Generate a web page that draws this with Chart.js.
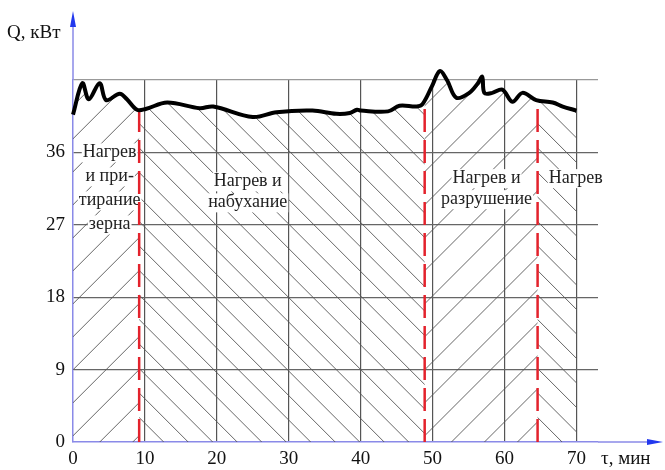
<!DOCTYPE html>
<html>
<head>
<meta charset="utf-8">
<script src="https://cdn.jsdelivr.net/npm/chart.js@4"></script>
<style>
  html, body { margin: 0; padding: 0; background: #fff; }
  canvas { display: block; }
</style>
</head>
<body>
<canvas id="chart" width="665" height="470"></canvas>
<script>
// time, min
const tau = [0, 1.3, 2.2, 3.7, 4.6, 6.5, 7.5, 8.9, 10.1, 13.1, 17.6, 19.5, 25, 28.3, 33.3, 36.6,
  38.5, 39.5, 40, 43.8, 45.4, 47.8, 48.6, 49.9, 51, 52, 53.3, 55.1, 56.3, 56.9, 57.2, 58.3,
  59.7, 61.1, 62.5, 64.4, 66.7, 68.1, 70];
// power Q, kW
const power = [40.7, 44.6, 42.6, 44.6, 42.5, 43.3, 42.6, 41.3, 41.4, 42.2, 41.5, 41.7, 40.4, 41.0,
  41.2, 40.8, 40.9, 41.3, 41.2, 41.1, 41.8, 41.7, 42.0, 44.2, 46.1, 45.0, 42.8, 43.4, 44.6, 45.4,
  43.4, 43.4, 43.8, 42.3, 43.4, 42.5, 42.2, 41.7, 41.2];

// stage boundaries (min) and stage captions
const stageBounds = [0, 9.2, 48.9, 64.6, 70];
const stageHatch = ['/', '\\', '/', '\\'];
const stageLabels = [
  ['Нагрев', 'и при-', 'тирание', 'зерна'],
  ['Нагрев и', 'набухание'],
  ['Нагрев и', 'разрушение'],
  ['Нагрев']
];
const yTicks = [0, 9, 18, 27, 36, 45];

const serif = "'Liberation Serif', 'Times New Roman', serif";
const axisBlue = '#8a8ae8';

// where to put captions (data coords: centre x, first line y)
const labelPos = [[5.1, 36.0], [24.3, 32.4], [57.5, 32.8], [69.9, 32.8]];

function curveAt(x) {
  for (let i = 1; i < tau.length; i++) {
    if (x <= tau[i]) {
      const t = (x - tau[i - 1]) / (tau[i] - tau[i - 1]);
      return power[i - 1] + t * (power[i] - power[i - 1]);
    }
  }
  return power[power.length - 1];
}

const stagesPlugin = {
  id: 'stages',
  beforeDatasetsDraw(chart) {
    const { ctx, scales: { x, y } } = chart;
    const meta = chart.getDatasetMeta(0);
    const yb = y.getPixelForValue(0);
    const top = y.getPixelForValue(50);

    // hatching under the curve
    ctx.save();
    ctx.beginPath();
    if (meta.dataset && meta.dataset.path) {
      meta.dataset.path(ctx, 0, meta.data.length);
    } else {
      meta.data.forEach((p, i) => i ? ctx.lineTo(p.x, p.y) : ctx.moveTo(p.x, p.y));
    }
    ctx.lineTo(x.getPixelForValue(70), yb);
    ctx.lineTo(x.getPixelForValue(0), yb);
    ctx.closePath();
    ctx.clip();
    ctx.strokeStyle = '#555';
    ctx.lineWidth = 0.9;
    for (let i = 0; i < stageHatch.length; i++) {
      const l = x.getPixelForValue(stageBounds[i]);
      const r = x.getPixelForValue(stageBounds[i + 1]);
      const step = stageHatch[i] === '/' ? 33 : 24.5;
      const h = yb - top;
      ctx.save();
      ctx.beginPath();
      ctx.rect(l, top, r - l, h);
      ctx.clip();
      ctx.beginPath();
      for (let s = l - h; s < r + h; s += step) {
        if (stageHatch[i] === '/') {
          ctx.moveTo(s, yb);
          ctx.lineTo(s + h, yb - h);
        } else {
          ctx.moveTo(s, top);
          ctx.lineTo(s + h, top + h);
        }
      }
      ctx.stroke();
      ctx.restore();
    }
    ctx.restore();

    // captions on white
    ctx.save();
    ctx.font = '18px ' + serif;
    ctx.textAlign = 'center';
    ctx.textBaseline = 'middle';
    stageLabels.forEach((lines, i) => {
      const cx = x.getPixelForValue(labelPos[i][0]);
      const cy = y.getPixelForValue(labelPos[i][1]);
      const step = i === 0 ? 24 : 21;
      lines.forEach((t, k) => {
        const w = ctx.measureText(t).width;
        ctx.fillStyle = '#fff';
        ctx.fillRect(cx - w / 2 - 1, cy + k * step - 9, w + 2, 19);
        ctx.fillStyle = '#222';
        ctx.fillText(t, cx, cy + k * step);
      });
    });
    ctx.restore();

    // red dashed stage boundaries
    ctx.save();
    ctx.strokeStyle = '#e3222c';
    ctx.lineWidth = 2.5;
    ctx.setLineDash([23, 8]);
    stageBounds.slice(1, -1).forEach(b => {
      const px = x.getPixelForValue(b);
      ctx.beginPath();
      ctx.moveTo(px, yb);
      ctx.lineTo(px, y.getPixelForValue(curveAt(b)) + 2);
      ctx.stroke();
    });
    ctx.restore();
  },
  afterDraw(chart) {
    const { ctx, chartArea: a } = chart;
    ctx.save();
    ctx.strokeStyle = axisBlue;
    ctx.lineWidth = 1.5;
    ctx.beginPath();
    ctx.moveTo(a.left, a.top);
    ctx.lineTo(a.left, 24);
    ctx.moveTo(a.right, a.bottom);
    ctx.lineTo(650, a.bottom);
    ctx.stroke();
    ctx.fillStyle = '#2238ee';
    ctx.beginPath();
    ctx.moveTo(a.left, 11);
    ctx.lineTo(a.left - 3, 27);
    ctx.lineTo(a.left + 3, 27);
    ctx.closePath();
    ctx.fill();
    ctx.beginPath();
    ctx.moveTo(663, a.bottom);
    ctx.lineTo(647, a.bottom - 3);
    ctx.lineTo(647, a.bottom + 3);
    ctx.closePath();
    ctx.fill();

    ctx.fillStyle = '#111';
    ctx.textBaseline = 'middle';
    ctx.textAlign = 'left';
    ctx.font = '19px ' + serif;
    ctx.fillText('Q, кВт', 7, 33);
    ctx.fillText('τ, мин', 601, 459);
    ctx.restore();
  }
};

new Chart(document.getElementById('chart'), {
  type: 'line',
  data: {
    labels: tau,
    datasets: [{
      data: tau.map((t, i) => ({ x: t, y: power[i] })),
      borderColor: '#000',
      borderWidth: 4,
      pointRadius: 0,
      tension: 0.35,
      fill: false,
      clip: false
    }]
  },
  options: {
    responsive: false,
    animation: false,
    layout: { padding: { top: 80, right: 67, left: 0, bottom: 0 } },
    plugins: { legend: { display: false }, tooltip: { enabled: false } },
    scales: {
      x: {
        type: 'linear',
        min: 0,
        max: 73,
        afterFit: s => { s.height = 28; },
        border: { display: true, color: axisBlue, width: 1.5 },
        grid: {
          drawTicks: false,
          color: c => (c.tick && c.tick.value > 0 && c.tick.value <= 70) ? '#555' : 'rgba(0,0,0,0)',
          lineWidth: 1.2
        },
        ticks: {
          stepSize: 10,
          includeBounds: false,
          padding: 6,
          color: '#111',
          font: { family: serif, size: 19 },
          maxRotation: 0
        }
      },
      y: {
        min: 0,
        max: 45,
        afterFit: s => { s.width = 73; },
        afterBuildTicks: s => { s.ticks = yTicks.map(v => ({ value: v })); },
        border: { display: true, color: axisBlue, width: 1.5 },
        grid: {
          drawTicks: false,
          color: c => c.tick.value === 0 ? 'rgba(0,0,0,0)' : (c.tick.value === 45 ? '#999' : '#666'),
          lineWidth: 1.2
        },
        ticks: {
          padding: 8,
          color: '#111',
          font: { family: serif, size: 19 },
          callback: v => v === 45 ? '' : v
        }
      }
    }
  },
  plugins: [stagesPlugin]
});
</script>
</body>
</html>
